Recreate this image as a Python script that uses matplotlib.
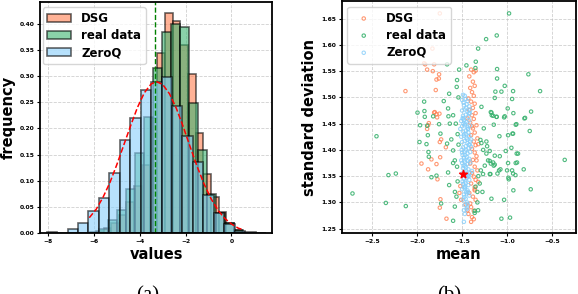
import numpy as np
import matplotlib
matplotlib.use("Agg")
import matplotlib.pyplot as plt

plt.rcParams['font.family'] = ['DejaVu Sans']
plt.rcParams['font.weight'] = 'bold'
plt.rcParams['axes.labelweight'] = 'bold'

# ---------------- (a) histogram of values ----------------
dsg_edges = [-5.92, -5.58, -5.25, -4.91, -4.58, -4.24, -3.91, -3.57, -3.24, -2.90,
             -2.57, -2.23, -1.90, -1.56, -1.23, -0.89, -0.56, -0.22, 0.11, 0.45]
dsg_freq = [0.005, 0.010, 0.020, 0.035, 0.060, 0.090, 0.130, 0.220, 0.344, 0.420,
            0.405, 0.360, 0.304, 0.192, 0.113, 0.070, 0.040, 0.020, 0.007]

real_edges = [-6.16, -5.77, -5.37, -4.98, -4.59, -4.19, -3.80, -3.41, -3.02,
              -2.62, -2.23, -1.84, -1.44, -1.05, -0.66, -0.26, 0.13, 0.52]
real_freq = [0.003, 0.008, 0.025, 0.045, 0.085, 0.153, 0.222, 0.316, 0.384,
             0.399, 0.394, 0.248, 0.159, 0.075, 0.038, 0.020, 0.006]

zeroq_edges = [-8.06, -7.60, -7.15, -6.69, -6.24, -5.78, -5.33, -4.87, -4.42, -3.96, -3.51,
               -3.05, -2.59, -2.14, -1.68, -1.23, -0.77, -0.32, 0.14, 0.59, 1.05, 1.50]
zeroq_freq = [0.003, 0.001, 0.009, 0.020, 0.043, 0.068, 0.115, 0.178, 0.220, 0.274, 0.288,
              0.298, 0.243, 0.186, 0.137, 0.073, 0.038, 0.018, 0.005, 0.002, 0.001]

# red dashed fitted curve
fit_x = [-6.20, -5.90, -5.60, -5.30, -5.00, -4.70, -4.40, -4.10, -3.80, -3.50, -3.26, -3.00,
         -2.70, -2.40, -2.10, -1.80, -1.50, -1.20, -0.90, -0.60, -0.30, 0.00, 0.30, 0.45]
fit_y = [0.030, 0.046, 0.069, 0.097, 0.131, 0.168, 0.205, 0.240, 0.268, 0.285, 0.289, 0.284,
         0.266, 0.238, 0.203, 0.165, 0.128, 0.095, 0.067, 0.045, 0.029, 0.018, 0.010, 0.008]
mean_x = -3.32

# ---------------- (b) mean / std scatter ----------------
real_mean = [-0.978, -1.115, -1.233, -1.322, -1.348, -1.452, -1.533, -1.352, -1.111, -1.111,
             -0.763, -1.026, -1.130, -1.063, -0.933, -0.633, -1.137, -0.944, -0.993, -0.733,
             -0.930, -0.800, -1.181, -1.170, -1.115, -1.033, -1.285, -1.560,
             -1.148, -0.904, -1.085, -0.989, -0.933, -0.748, -1.222, -1.193, -1.211, -1.181,
             -1.137, -1.015, -0.893, -0.359, -0.989, -0.904, -0.815, -0.933, -0.981, -1.107,
             -1.185, -1.267, -1.274, -1.174, -1.033, -0.930, -0.737, -1.063, -0.967, -1.304,
             -1.322, -1.173, -1.155, -1.118, -1.026, -0.807, -0.896, -0.940, -1.259, -1.296,
             -1.285, -1.230, -1.266, -1.230, -1.192, -1.155, -1.148, -1.137, -0.952, -0.878,
             -0.889, -1.081, -1.089, -1.192, -1.074, -1.000, -0.944, -0.907, -0.985, -1.248,
             -1.292, -1.996, -1.915, -1.967, -1.889, -1.822, -1.756, -1.741, -1.881, -1.652,
             -1.637, -1.570, -2.452, -1.974, -1.896, -1.874, -1.870, -1.667, -1.600, -1.581,
             -1.656, -1.556, -1.785, -1.841, -2.319, -2.237, -2.719, -2.348, -2.126, -1.733,
             -1.581, -1.563, -1.644, -1.667, -1.556, -1.644, -1.541, -1.704, -1.656, -1.919,
             -1.600, -1.922, -1.620, -1.600, -1.550, -1.580, -1.350, -1.330, -1.360, -1.600,
             -1.359, -1.540, -1.550, -1.330, -1.320]
real_std = [1.660, 1.618, 1.611, 1.593, 1.568, 1.561, 1.553, 1.556, 1.554, 1.536,
            1.544, 1.522, 1.511, 1.511, 1.512, 1.512, 1.499, 1.497, 1.479, 1.473,
            1.470, 1.461, 1.472, 1.466, 1.463, 1.462, 1.482, 1.520,
            1.448, 1.448, 1.426, 1.428, 1.431, 1.436, 1.407, 1.398, 1.380, 1.374,
            1.372, 1.398, 1.393, 1.381, 1.375, 1.375, 1.363, 1.355, 1.344, 1.355,
            1.354, 1.354, 1.320, 1.307, 1.305, 1.323, 1.325, 1.269, 1.271, 1.336,
            1.285, 1.471, 1.465, 1.463, 1.464, 1.460, 1.449, 1.431, 1.441, 1.419,
            1.413, 1.416, 1.400, 1.393, 1.379, 1.376, 1.370, 1.389, 1.404, 1.393,
            1.376, 1.388, 1.361, 1.354, 1.363, 1.361, 1.361, 1.352, 1.347, 1.370,
            1.361, 1.471, 1.463, 1.447, 1.446, 1.464, 1.449, 1.431, 1.428, 1.464,
            1.450, 1.450, 1.426, 1.415, 1.411, 1.396, 1.387, 1.412, 1.399, 1.380,
            1.357, 1.368, 1.351, 1.348, 1.352, 1.355, 1.317, 1.299, 1.293, 1.298,
            1.292, 1.311, 1.333, 1.563, 1.533, 1.507, 1.500, 1.493, 1.479, 1.474,
            1.466, 1.492, 1.420, 1.375, 1.340, 1.320, 1.330, 1.300, 1.280, 1.265,
            1.284, 1.410, 1.430, 1.320, 1.350]

dsg_mean = [-1.748, -1.830, -1.911, -1.811, -1.889, -1.826, -1.756, -1.785, -1.759, -1.793,
            -2.130, -1.804, -1.752, -1.778, -1.811, -1.785, -1.878, -1.889, -1.733, -1.748,
            -1.681, -1.841, -1.785, -1.744, -1.952, -1.878, -1.774, -1.741, -1.748, -1.674,
            -1.870, -1.922,
            -1.40, -1.37, -1.35, -1.42, -1.38, -1.36, -1.41, -1.39, -1.37, -1.43,
            -1.40, -1.36, -1.38, -1.42, -1.35, -1.39, -1.37, -1.41, -1.34, -1.38,
            -1.36, -1.40, -1.33, -1.37, -1.35, -1.32, -1.39, -1.36, -1.34, -1.38,
            -1.34, -1.41, -1.36, -1.33, -1.39, -1.37, -1.32, -1.35, -1.40, -1.36,
            -1.36, -1.42, -1.38, -1.35, -1.41, -1.40, -1.37, -1.43, -1.39, -1.40,
            -1.37, -1.53, -1.51, -1.52, -1.46, -1.44, -1.44, -1.39, -1.36]
dsg_std = [1.660, 1.593, 1.563, 1.563, 1.553, 1.550, 1.544, 1.534, 1.536, 1.514,
           1.512, 1.472, 1.469, 1.462, 1.471, 1.468, 1.447, 1.440, 1.420, 1.415,
           1.405, 1.382, 1.373, 1.386, 1.374, 1.363, 1.344, 1.306, 1.290, 1.269,
           1.451, 1.565,
           1.553, 1.548, 1.551, 1.540, 1.530, 1.522, 1.518, 1.510, 1.503, 1.498,
           1.492, 1.488, 1.480, 1.476, 1.470, 1.466, 1.459, 1.452, 1.447, 1.441,
           1.433, 1.428, 1.422, 1.416, 1.409, 1.411, 1.402, 1.395, 1.388, 1.381,
           1.380, 1.374, 1.368, 1.361, 1.356, 1.349, 1.339, 1.343, 1.336, 1.329,
           1.323, 1.318, 1.311, 1.305, 1.298, 1.291, 1.284, 1.278, 1.272, 1.263,
           1.268, 1.318, 1.305, 1.331, 1.296, 1.285, 1.460, 1.445, 1.325]

zeroq_mean = [-1.49, -1.47, -1.50, -1.46, -1.44, -1.48, -1.45, -1.42, -1.50, -1.47,
              -1.44, -1.41, -1.49, -1.46, -1.43, -1.51, -1.48, -1.45, -1.42, -1.50,
              -1.47, -1.44, -1.41, -1.49, -1.46, -1.43, -1.51, -1.48, -1.45, -1.42,
              -1.50, -1.47, -1.44, -1.41, -1.49, -1.46, -1.43, -1.40, -1.50, -1.47,
              -1.44, -1.41, -1.48, -1.45, -1.42, -1.50, -1.47, -1.44, -1.41, -1.49,
              -1.46, -1.43, -1.50, -1.47, -1.44, -1.41, -1.48, -1.45, -1.42, -1.49,
              -1.46, -1.43, -1.50, -1.47, -1.44, -1.48, -1.45, -1.42, -1.49, -1.46,
              -1.47, -1.44, -1.48, -1.45, -1.47, -1.48, -1.52, -1.40, -1.51, -1.39,
              -1.485, -1.455, -1.425, -1.495, -1.465, -1.435, -1.475, -1.445, -1.415, -1.505,
              -1.465, -1.435, -1.485, -1.455, -1.425, -1.495, -1.465, -1.435, -1.475, -1.445,
              -1.415, -1.485, -1.455, -1.425, -1.495, -1.465, -1.435, -1.475, -1.445, -1.485,
              -1.455, -1.465, -1.435, -1.475, -1.455]
zeroq_std = [1.505, 1.503, 1.495, 1.497, 1.493, 1.485, 1.487, 1.483, 1.475, 1.477,
             1.473, 1.476, 1.465, 1.467, 1.463, 1.455, 1.457, 1.453, 1.456, 1.445,
             1.447, 1.443, 1.446, 1.435, 1.437, 1.433, 1.425, 1.427, 1.423, 1.426,
             1.415, 1.417, 1.413, 1.416, 1.405, 1.407, 1.403, 1.406, 1.395, 1.397,
             1.393, 1.396, 1.385, 1.387, 1.383, 1.375, 1.377, 1.373, 1.376, 1.365,
             1.367, 1.363, 1.355, 1.357, 1.353, 1.356, 1.345, 1.347, 1.343, 1.335,
             1.337, 1.333, 1.325, 1.327, 1.323, 1.315, 1.317, 1.313, 1.305, 1.307,
             1.295, 1.297, 1.285, 1.287, 1.278, 1.263, 1.440, 1.420, 1.380, 1.360,
             1.490, 1.480, 1.470, 1.460, 1.450, 1.440, 1.430, 1.420, 1.410, 1.400,
             1.390, 1.380, 1.370, 1.360, 1.350, 1.340, 1.330, 1.320, 1.310, 1.300,
             1.470, 1.450, 1.430, 1.410, 1.390, 1.370, 1.350, 1.330, 1.290, 1.460,
             1.400, 1.340, 1.440, 1.380, 1.320]

red_point = (-1.489, 1.354)

c_dsg = '#ff7f50'
c_real = '#3cb371'
c_zeroq = '#87cefa'

fig = plt.figure(figsize=(5.78, 2.94), dpi=100)
ax1 = fig.add_axes([0.070, 0.206, 0.401, 0.788])
ax2 = fig.add_axes([0.591, 0.206, 0.405, 0.790])

# (a)
ax1.hist(dsg_edges[:-1], bins=dsg_edges, weights=dsg_freq, color=c_dsg, alpha=0.6,
         edgecolor='black', linewidth=1.2, label='DSG')
ax1.hist(real_edges[:-1], bins=real_edges, weights=real_freq, color=c_real, alpha=0.6,
         edgecolor='black', linewidth=1.2, label='real data')
ax1.hist(zeroq_edges[:-1], bins=zeroq_edges, weights=zeroq_freq, color=c_zeroq, alpha=0.6,
         edgecolor='black', linewidth=1.2, label='ZeroQ')
ax1.plot(fit_x, fit_y, 'r--', linewidth=1.1)
ax1.axvline(mean_x, color='green', linestyle='--', linewidth=1.0)
ax1.set_xlim(-8.33, 1.78)
ax1.set_ylim(0, 0.4415)
ax1.set_xticks([-8, -6, -4, -2, 0])
ax1.set_yticks(np.arange(0, 0.41, 0.05))
ax1.yaxis.set_major_formatter(matplotlib.ticker.FormatStrFormatter('%.2f'))
ax1.set_xlabel('values', fontsize=10.5, labelpad=2)
ax1.set_ylabel('frequency', fontsize=10.5, labelpad=3)
ax1.legend(loc='upper left', bbox_to_anchor=(0.0095, 0.976), borderaxespad=0,
           fontsize=8.5, labelspacing=0.35, handletextpad=0.85, handlelength=2.0,
           borderpad=0.4)

# (b)
ax2.scatter(dsg_mean, dsg_std, s=6, facecolors='none', edgecolors=c_dsg,
            linewidths=0.8, alpha=0.8, label='DSG')
ax2.scatter(real_mean, real_std, s=6, facecolors='none', edgecolors=c_real,
            linewidths=0.8, alpha=0.9, label='real data')
ax2.scatter(zeroq_mean, zeroq_std, s=6, facecolors='none', edgecolors=c_zeroq,
            linewidths=0.8, alpha=0.8, label='ZeroQ')
ax2.scatter([red_point[0]], [red_point[1]], s=35, marker='*', color='red', zorder=5)
ax2.set_xlim(-2.84, -0.237)
ax2.set_ylim(1.2409, 1.6833)
ax2.set_xticks([-2.5, -2.0, -1.5, -1.0, -0.5])
ax2.set_yticks(np.arange(1.25, 1.66, 0.05))
ax2.yaxis.set_major_formatter(matplotlib.ticker.FormatStrFormatter('%.2f'))
ax2.set_xlabel('mean', fontsize=10.5, labelpad=2)
ax2.set_ylabel('standard deviation', fontsize=10.5, labelpad=3)
ax2.legend(loc='upper left', bbox_to_anchor=(0.024, 0.9755), borderaxespad=0,
           fontsize=8.5, labelspacing=0.35, handletextpad=0.9, handlelength=2.0,
           borderpad=0.4, scatterpoints=1)

for ax in (ax1, ax2):
    ax.grid(True, color='#bbbbbb', linestyle='--', linewidth=0.6, alpha=0.7)
    ax.set_axisbelow(True)
    ax.tick_params(labelsize=4.3, length=2.5, width=0.8, pad=1.5)
    for sp in ax.spines.values():
        sp.set_linewidth(1.3)

# captions sit partly below the bottom edge, as in the source figure
fig.text(0.256, 1 - 286 / 294, '(a)', family='Liberation Serif', fontsize=15,
         fontweight='normal', ha='center', va='top')
fig.text(0.778, 1 - 286 / 294, '(b)', family='Liberation Serif', fontsize=15,
         fontweight='normal', ha='center', va='top')

fig.savefig('out.png', dpi=100)
